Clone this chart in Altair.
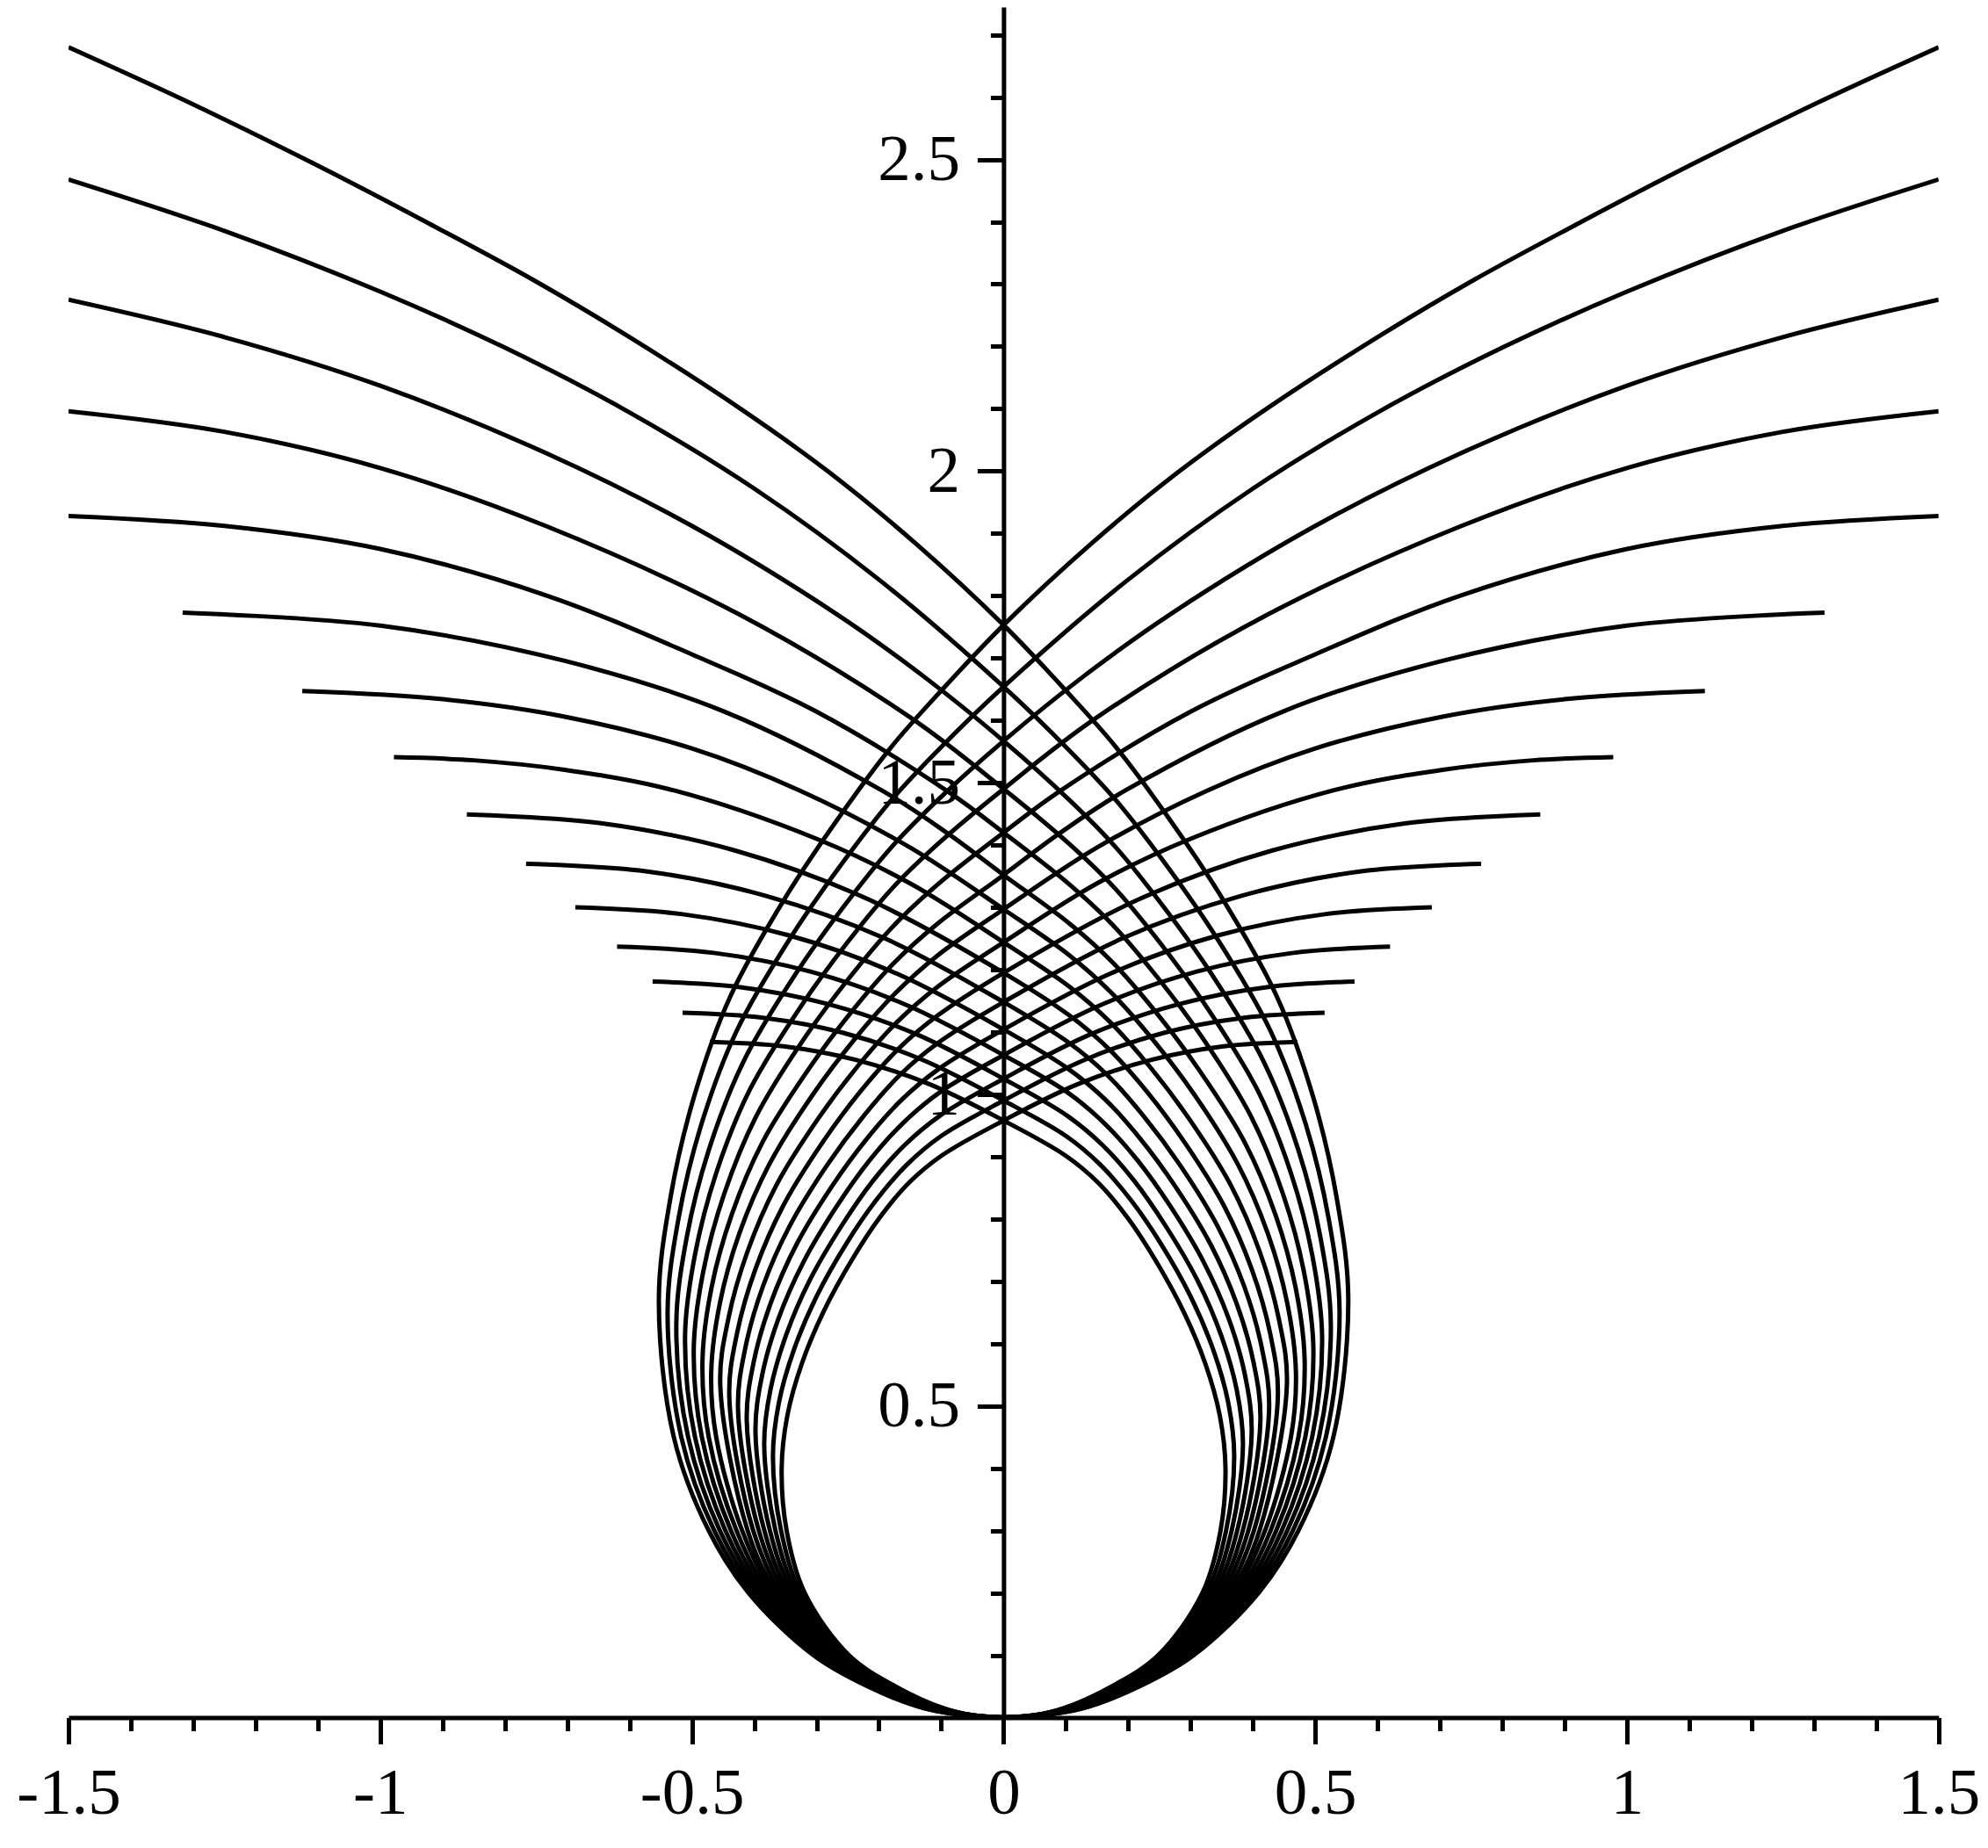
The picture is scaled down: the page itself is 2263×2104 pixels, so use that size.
import altair as alt
import pandas as pd

# Heights where each curve crosses the vertical axis (inner loop -> outer loop)
H_CROSS = [0.958, 0.990, 1.025, 1.063, 1.104, 1.148, 1.195, 1.244, 1.297, 1.352,
           1.420, 1.490, 1.567, 1.654, 1.753]

# Loop part of each curve (loop on the right side)
LOOP_X = [
    [0, 0.05, 0.096, 0.173, 0.248, 0.319, 0.348, 0.356, 0.347, 0.324, 0.289, 0.243, 0.199, 0.152, 0.099],
    [0, 0.05, 0.0983, 0.1762, 0.2521, 0.3254, 0.3569, 0.370, 0.3605, 0.3364, 0.2999, 0.2513, 0.2045, 0.1553, 0.1004],
    [0, 0.05, 0.1006, 0.1794, 0.2561, 0.3319, 0.3659, 0.384, 0.374, 0.3488, 0.3108, 0.2593, 0.2098, 0.1584, 0.1017],
    [0, 0.05, 0.1029, 0.1826, 0.2602, 0.3383, 0.3748, 0.398, 0.3874, 0.3612, 0.3215, 0.2672, 0.215, 0.1612, 0.1028],
    [0, 0.05, 0.1051, 0.1859, 0.2643, 0.3447, 0.3837, 0.412, 0.4008, 0.3736, 0.3323, 0.2751, 0.220, 0.1639, 0.1037],
    [0, 0.05, 0.1074, 0.1891, 0.2684, 0.3511, 0.3926, 0.426, 0.4141, 0.386, 0.343, 0.2827, 0.2248, 0.1664, 0.1044],
    [0, 0.05, 0.1097, 0.1923, 0.2724, 0.3576, 0.4016, 0.440, 0.4275, 0.3983, 0.3537, 0.2904, 0.2294, 0.1687, 0.105],
    [0, 0.05, 0.112, 0.1955, 0.2765, 0.364, 0.4105, 0.4545, 0.4413, 0.4111, 0.3647, 0.2982, 0.2341, 0.1709, 0.1054],
    [0, 0.05, 0.1143, 0.1987, 0.2806, 0.3704, 0.4194, 0.461, 0.469, 0.4551, 0.4238, 0.3757, 0.3058, 0.2386, 0.1729, 0.1057],
    [0, 0.05, 0.1166, 0.2019, 0.2846, 0.3769, 0.4284, 0.473, 0.483, 0.4685, 0.4361, 0.3863, 0.3131, 0.2427, 0.1746, 0.1057],
    [0, 0.05, 0.1189, 0.2051, 0.2887, 0.3833, 0.4373, 0.484, 0.497, 0.4817, 0.4483, 0.3968, 0.3203, 0.2466, 0.176, 0.1055],
    [0, 0.05, 0.1211, 0.2084, 0.2928, 0.3897, 0.4462, 0.495, 0.511, 0.495, 0.4606, 0.4073, 0.3273, 0.2503, 0.1773, 0.1051],
    [0, 0.05, 0.1234, 0.2116, 0.2969, 0.3961, 0.4551, 0.506, 0.525, 0.5083, 0.4728, 0.4177, 0.3343, 0.2539, 0.1783, 0.1045],
    [0, 0.05, 0.1257, 0.2148, 0.3009, 0.4026, 0.4641, 0.517, 0.539, 0.5215, 0.485, 0.4282, 0.3411, 0.2573, 0.1791, 0.1038],
    [0, 0.05, 0.128, 0.218, 0.305, 0.409, 0.473, 0.529, 0.553, 0.5348, 0.4971, 0.4385, 0.3478, 0.2605, 0.1797, 0.1029],
]
LOOP_Y = [
    [0, 0.004, 0.015, 0.05, 0.1, 0.2, 0.3, 0.400, 0.484, 0.567, 0.651, 0.735, 0.802, 0.858, 0.902],
    [0, 0.0039, 0.015, 0.05, 0.1, 0.2, 0.3, 0.419, 0.505, 0.590, 0.676, 0.762, 0.830, 0.887, 0.933],
    [0, 0.0038, 0.015, 0.05, 0.1, 0.2, 0.3, 0.438, 0.526, 0.614, 0.702, 0.790, 0.861, 0.919, 0.966],
    [0, 0.0036, 0.015, 0.05, 0.1, 0.2, 0.3, 0.458, 0.549, 0.640, 0.730, 0.821, 0.894, 0.954, 1.003],
    [0, 0.0035, 0.015, 0.05, 0.1, 0.2, 0.3, 0.477, 0.571, 0.665, 0.759, 0.853, 0.928, 0.991, 1.041],
    [0, 0.0034, 0.015, 0.05, 0.1, 0.2, 0.3, 0.496, 0.594, 0.692, 0.789, 0.887, 0.965, 1.031, 1.083],
    [0, 0.0033, 0.015, 0.05, 0.1, 0.2, 0.3, 0.515, 0.617, 0.719, 0.821, 0.923, 1.005, 1.073, 1.127],
    [0, 0.0031, 0.015, 0.05, 0.1, 0.2, 0.3, 0.5345, 0.641, 0.747, 0.854, 0.960, 1.045, 1.116, 1.173],
    [0, 0.003, 0.015, 0.05, 0.1, 0.2, 0.3, 0.45, 0.554, 0.665, 0.777, 0.888, 1.000, 1.089, 1.163, 1.223],
    [0, 0.0029, 0.015, 0.05, 0.1, 0.2, 0.3, 0.45, 0.573, 0.690, 0.807, 0.924, 1.040, 1.134, 1.212, 1.274],
    [0, 0.0028, 0.015, 0.05, 0.1, 0.2, 0.3, 0.45, 0.592, 0.716, 0.840, 0.965, 1.089, 1.188, 1.271, 1.337],
    [0, 0.0027, 0.015, 0.05, 0.1, 0.2, 0.3, 0.45, 0.611, 0.743, 0.875, 1.007, 1.138, 1.244, 1.332, 1.402],
    [0, 0.0026, 0.015, 0.05, 0.1, 0.2, 0.3, 0.45, 0.630, 0.7706, 0.911, 1.0517, 1.192, 1.3046, 1.3983, 1.4733],
    [0, 0.0024, 0.015, 0.05, 0.1, 0.2, 0.3, 0.45, 0.650, 0.8006, 0.9512, 1.1018, 1.2524, 1.3729, 1.4733, 1.5536],
    [0, 0.0023, 0.015, 0.05, 0.1, 0.2, 0.3, 0.45, 0.669, 0.8316, 0.9942, 1.1568, 1.3194, 1.4495, 1.5579, 1.6446],
]

# Arm of each curve after it crosses the axis (distance from the axis, height)
ARM_X = [
    [0.118, 0.236, 0.353, 0.471],
    [0.129, 0.258, 0.386, 0.515],
    [0.141, 0.282, 0.422, 0.563],
    [0.155, 0.31, 0.465, 0.620],
    [0.172, 0.344, 0.515, 0.687],
    [0.19, 0.383, 0.574, 0.766],
    [0.215, 0.43, 0.646, 0.861],
    [0.15, 0.3, 0.53, 0.704, 0.85, 0.978],
    [0.15, 0.328, 0.5, 0.704, 0.9, 1.125],
    [0.09, 0.196, 0.45, 0.704, 1.0, 1.317],
    [0.091, 0.3, 0.5, 0.732, 1.0, 1.25, 1.5],
    [0.15, 0.424, 0.732, 1.0, 1.25, 1.5],
    [0.13, 0.267, 0.5, 0.732, 1.0, 1.25, 1.5],
    [0.2, 0.4, 0.6, 0.8, 1.0, 1.25, 1.5],
    [0.14, 0.281, 0.422, 0.605, 0.755, 0.927, 1.108, 1.31, 1.5],
]
ARM_Y = [
    [1.016, 1.055, 1.077, 1.084],
    [1.055, 1.099, 1.123, 1.131],
    [1.097, 1.145, 1.172, 1.181],
    [1.143, 1.197, 1.227, 1.237],
    [1.194, 1.255, 1.289, 1.300],
    [1.250, 1.319, 1.358, 1.370],
    [1.312, 1.391, 1.435, 1.449],
    [1.3385, 1.410, 1.488, 1.5207, 1.536, 1.541],
    [1.396, 1.488, 1.555, 1.606, 1.634, 1.647],
    [1.419, 1.488, 1.615, 1.6955, 1.752, 1.773],
    [1.487, 1.614, 1.706, 1.800, 1.875, 1.912, 1.928],
    [1.605, 1.770, 1.911, 2.005, 2.063, 2.096],
    [1.672, 1.770, 1.912, 2.028, 2.137, 2.215, 2.275],
    [1.826, 1.972, 2.094, 2.198, 2.288, 2.3855, 2.468],
    [1.883, 1.999, 2.100, 2.218, 2.307, 2.400, 2.494, 2.593, 2.680],
]

X_MAJOR = [-1.5, -1, -0.5, 0, 0.5, 1, 1.5]
X_MINOR = [-1.5, -1.4, -1.3, -1.2, -1.1, -1.0, -0.9, -0.8, -0.7, -0.6, -0.5, -0.4, -0.3,
           -0.2, -0.1, 0.0, 0.1, 0.2, 0.3, 0.4, 0.5, 0.6, 0.7, 0.8, 0.9, 1.0, 1.1, 1.2,
           1.3, 1.4, 1.5]
Y_MAJOR = [0.5, 1, 1.5, 2, 2.5]
Y_MINOR = [0.1, 0.2, 0.3, 0.4, 0.5, 0.6, 0.7, 0.8, 0.9, 1.0, 1.1, 1.2, 1.3, 1.4, 1.5,
           1.6, 1.7, 1.8, 1.9, 2.0, 2.1, 2.2, 2.3, 2.4, 2.5, 2.6, 2.7]

rows = []
for k in range(len(H_CROSS)):
    pts = list(zip(LOOP_X[k], LOOP_Y[k]))
    pts.append((0.0, H_CROSS[k]))
    pts += [(-ax, ay) for ax, ay in zip(ARM_X[k], ARM_Y[k])]
    for i, (x, y) in enumerate(pts):
        rows.append({"curve": k, "i": i, "x": x, "y": y})
df = pd.DataFrame(rows)

UNIT = 709.6
W = 3.0 * UNIT
YMAX = 2.7446
H = YMAX * UNIT
FONT = "Liberation Serif"
FS = 75

xs = alt.Scale(domain=[-1.5, 1.5], nice=False, zero=False)
ys = alt.Scale(domain=[0, YMAX], nice=False, zero=False)

common = dict(tickColor="black", tickWidth=5, tickCap="butt", grid=False, title=None,
              labelFont=FONT, labelFontSize=FS, labelColor="black",
              labelFlush=False, labelOverlap=False, domainColor="black",
              domainWidth=5, domainCap="butt")

x_major_axis = alt.Axis(orient="bottom", values=X_MAJOR, tickSize=30, labelPadding=20,
                        labelExpr="datum.value < 0 ? '-' + toString(-datum.value) : toString(datum.value)",
                        **common)
y_major_axis = alt.Axis(orient="left", offset=-W / 2, values=Y_MAJOR, tickSize=30,
                        labelPadding=20, labelExpr="toString(datum.value)", **common)
minor_common = dict(common)
minor_common.update(labels=False, domain=False)
x_minor_axis = alt.Axis(orient="bottom", values=X_MINOR, tickSize=15, **minor_common)
y_minor_axis = alt.Axis(orient="left", offset=-W / 2, values=Y_MINOR, tickSize=15, **minor_common)

line_style = dict(interpolate="catmull-rom", color="black", strokeWidth=5,
                  strokeCap="butt", strokeJoin="round", clip=True)

right = alt.Chart(df).mark_line(**line_style).encode(
    x=alt.X("x:Q", scale=xs, axis=x_major_axis),
    y=alt.Y("y:Q", scale=ys, axis=y_major_axis),
    detail="curve:N",
    order="i:Q",
)

left = alt.Chart(df).transform_calculate(xn="-datum.x").mark_line(**line_style).encode(
    x=alt.X("xn:Q", scale=xs, axis=x_minor_axis),
    y=alt.Y("y:Q", scale=ys, axis=y_minor_axis),
    detail="curve:N",
    order="i:Q",
)

chart = alt.layer(right, left).resolve_axis(x="independent", y="independent").properties(
    width=W, height=H,
    padding={"left": 70, "top": 0, "right": 46, "bottom": 130},
    autosize=alt.AutoSizeParams(type="none"),
    background="white",
).configure_view(stroke=None)

chart.save("out.html", embed_options={"renderer": "svg", "actions": False})
